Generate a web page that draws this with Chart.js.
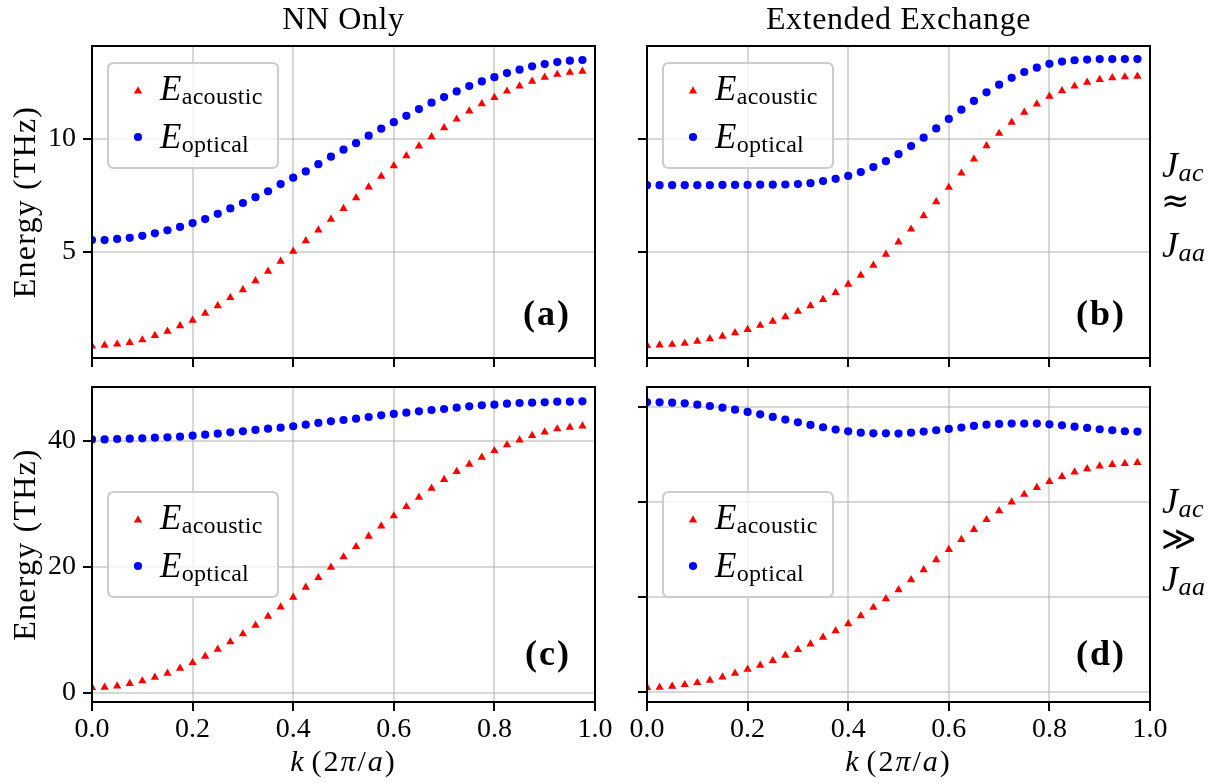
<!DOCTYPE html>
<html><head><meta charset="utf-8">
<script src="https://cdn.jsdelivr.net/npm/chart.js@4.4.1/dist/chart.umd.min.js"></script>
<style>
html,body{margin:0;padding:0;background:#fff;}
#wrap{position:relative;width:1217px;height:783px;overflow:hidden;background:#fff;}
canvas{position:absolute;}
</style></head><body>
<div id="wrap">
<canvas id="ca"></canvas><canvas id="cb"></canvas><canvas id="cc"></canvas><canvas id="cd"></canvas>
</div>
<script>
// ---------------- data ----------------
const kValues = [0, 0.025, 0.05, 0.075, 0.1, 0.125, 0.15, 0.175, 0.2, 0.225, 0.25, 0.275, 0.3, 0.325, 0.35, 0.375, 0.4, 0.425, 0.45, 0.475, 0.5, 0.525, 0.55, 0.575, 0.6, 0.625, 0.65, 0.675, 0.7, 0.725, 0.75, 0.775, 0.8, 0.825, 0.85, 0.875, 0.9, 0.925, 0.95, 0.975];
const xTicks = [0, 0.2, 0.4, 0.6, 0.8, 1.0];

const aAcoustic = [0.84, 0.87, 0.92, 0.99, 1.11, 1.30, 1.49, 1.73, 1.98, 2.29, 2.62, 2.98, 3.33, 3.73, 4.15, 4.59, 5.03, 5.50, 5.97, 6.45, 6.92, 7.40, 7.88, 8.35, 8.82, 9.26, 9.69, 10.10, 10.50, 10.88, 11.24, 11.56, 11.84, 12.12, 12.35, 12.56, 12.73, 12.86, 12.95, 13.00];
const aOptical = [5.53, 5.53, 5.58, 5.63, 5.72, 5.83, 5.96, 6.11, 6.28, 6.46, 6.69, 6.93, 7.17, 7.43, 7.69, 8.01, 8.29, 8.57, 8.89, 9.22, 9.53, 9.82, 10.15, 10.46, 10.75, 11.03, 11.33, 11.61, 11.86, 12.11, 12.35, 12.55, 12.74, 12.92, 13.07, 13.22, 13.32, 13.41, 13.47, 13.50];

const bAcoustic = [0.86, 0.88, 0.91, 0.96, 1.05, 1.16, 1.27, 1.42, 1.57, 1.75, 1.93, 2.13, 2.37, 2.62, 2.90, 3.21, 3.57, 3.97, 4.41, 4.90, 5.44, 6.01, 6.60, 7.22, 7.86, 8.49, 9.11, 9.70, 10.25, 10.74, 11.18, 11.55, 11.89, 12.14, 12.34, 12.51, 12.63, 12.71, 12.75, 12.78];
const bOptical = [7.96, 7.96, 7.96, 7.96, 7.96, 7.96, 7.97, 7.97, 7.97, 7.98, 7.98, 7.99, 8.01, 8.05, 8.14, 8.24, 8.37, 8.54, 8.76, 9.02, 9.33, 9.69, 10.06, 10.47, 10.89, 11.30, 11.69, 12.07, 12.41, 12.71, 12.97, 13.16, 13.33, 13.43, 13.49, 13.52, 13.54, 13.54, 13.54, 13.54];

const cAcoustic = [0.80, 0.85, 1.06, 1.43, 1.86, 2.44, 3.07, 3.87, 4.76, 5.77, 6.88, 8.05, 9.32, 10.69, 12.12, 13.60, 15.14, 16.72, 18.25, 19.90, 21.54, 23.17, 24.83, 26.46, 28.05, 29.52, 31.00, 32.44, 33.81, 35.08, 36.24, 37.37, 38.41, 39.32, 40.11, 40.80, 41.38, 41.86, 42.12, 42.33];
const cOptical = [40.20, 40.20, 40.27, 40.32, 40.37, 40.48, 40.53, 40.63, 40.79, 40.95, 41.11, 41.33, 41.49, 41.70, 41.90, 42.06, 42.29, 42.54, 42.81, 43.07, 43.28, 43.49, 43.76, 44.03, 44.24, 44.44, 44.66, 44.87, 45.03, 45.24, 45.46, 45.62, 45.71, 45.87, 45.98, 46.03, 46.09, 46.19, 46.19, 46.25];

const dAcoustic = [0.46, 0.48, 0.60, 0.77, 0.98, 1.23, 1.57, 1.96, 2.38, 2.80, 3.29, 3.85, 4.45, 5.04, 5.74, 6.44, 7.17, 8.01, 8.89, 9.80, 10.74, 11.79, 12.84, 13.89, 14.97, 16.02, 17.07, 18.12, 19.06, 19.97, 20.77, 21.50, 22.13, 22.66, 23.12, 23.47, 23.75, 23.92, 24.02, 24.13];
const dOptical = [30.46, 30.46, 30.42, 30.35, 30.21, 30.07, 29.90, 29.69, 29.45, 29.20, 28.92, 28.64, 28.36, 28.08, 27.84, 27.59, 27.41, 27.27, 27.20, 27.20, 27.17, 27.27, 27.38, 27.52, 27.66, 27.80, 27.98, 28.11, 28.19, 28.22, 28.22, 28.22, 28.15, 28.05, 27.90, 27.77, 27.63, 27.52, 27.42, 27.38];

const yTicksTop = [5, 10];
const yTicksC = [0, 20, 40];
const yTicksD = [0, 10, 20, 30];

const columnTitles = ['NN Only', 'Extended Exchange'];
const panelLabels = ['(a)', '(b)', '(c)', '(d)'];
const seriesNames = ['acoustic', 'optical'];
const yAxisTitle = 'Energy (THz)';
const rowLabels = [['ac', '\u2248', 'aa'], ['ac', '\u226B', 'aa']];

// ---------------- styling ----------------
const FAM = '"Liberation Serif", "Times New Roman", serif';
const SYM = '"DejaVu Sans", sans-serif';
const RED = '#ff0000', BLUE = '#0000ff';
const GRID = 'rgba(176,176,176,0.5)';

function pts(ys) { return kValues.map((k, i) => ({x: k, y: ys[i]})); }

// runs: [text, font, dy, spacingAfter]
function drawRuns(ctx, x, y, runs, align, ls) {
  ctx.letterSpacing = (ls || 0) + 'px';
  let total = 0;
  runs.forEach(r => { ctx.font = r[1]; r.w = ctx.measureText(r[0]).width + (r[3] || 0); total += r.w; });
  let cx = align === 'center' ? x - total / 2 : (align === 'right' ? x - total : x);
  ctx.textAlign = 'left';
  ctx.textBaseline = 'alphabetic';
  runs.forEach(r => { ctx.font = r[1]; ctx.fillText(r[0], cx, y + (r[2] || 0)); cx += r.w; });
  ctx.letterSpacing = '0px';
}

function roundRect(ctx, x, y, w, h, r) {
  ctx.beginPath();
  ctx.moveTo(x + r, y);
  ctx.lineTo(x + w - r, y); ctx.quadraticCurveTo(x + w, y, x + w, y + r);
  ctx.lineTo(x + w, y + h - r); ctx.quadraticCurveTo(x + w, y + h, x + w - r, y + h);
  ctx.lineTo(x + r, y + h); ctx.quadraticCurveTo(x, y + h, x, y + h - r);
  ctx.lineTo(x, y + r); ctx.quadraticCurveTo(x, y, x + r, y);
  ctx.closePath();
}

const decorPlugin = {
  id: 'decor',
  afterDatasetsDraw(chart, args, o) {
    const ctx = chart.ctx, ca = chart.chartArea;
    ctx.save();
    ctx.strokeStyle = '#000';
    ctx.lineWidth = 2;
    ctx.strokeRect(ca.left, ca.top, ca.right - ca.left, ca.bottom - ca.top);
    ctx.restore();
  },
  afterDraw(chart, args, o) {
    const ctx = chart.ctx, ca = chart.chartArea;
    ctx.save();
    ctx.fillStyle = '#000';
    const cx = (ca.left + ca.right) / 2;
    if (o.title) drawRuns(ctx, cx, 29, [[o.title, '32px ' + FAM]], 'center', 0.6);
    if (o.yTitle) {
      ctx.save();
      ctx.translate(35, (ca.top + ca.bottom) / 2);
      ctx.rotate(-Math.PI / 2);
      drawRuns(ctx, 0, 0, [[yAxisTitle, '32px ' + FAM]], 'center', 1.2);
      ctx.restore();
    }
    if (o.xTitle) {
      drawRuns(ctx, cx, o.xTitleY, [
        ['k', 'italic 30px ' + FAM, 0, 6], ['(', '30px ' + FAM], ['2', '30px ' + FAM], ['\u03C0', 'italic 30px ' + FAM],
        ['/', '30px ' + FAM], ['a', 'italic 30px ' + FAM], [')', '30px ' + FAM]], 'center', 2);
    }
    // panel label
    drawRuns(ctx, ca.right - 24, ca.bottom - o.labelUp, [[o.label, 'bold 36px ' + FAM]], 'right', 2);
    // legend
    const bx = ca.left + 16, by = ca.top + o.legTop, bw = 170, bh = 105;
    roundRect(ctx, bx, by, bw, bh, 6);
    ctx.fillStyle = 'rgba(255,255,255,0.8)';
    ctx.fill();
    ctx.strokeStyle = '#cccccc';
    ctx.lineWidth = 2;
    ctx.stroke();
    ctx.fillStyle = RED;
    Chart.helpers.drawPoint(ctx, {pointStyle: 'triangle', radius: 4.8, borderWidth: 0, rotation: 0}, bx + 30, by + 28);
    ctx.fillStyle = BLUE;
    Chart.helpers.drawPoint(ctx, {pointStyle: 'circle', radius: 4.1, borderWidth: 0, rotation: 0}, bx + 30, by + 74);
    ctx.fillStyle = '#000';
    drawRuns(ctx, bx + 52, by + 37, [['E', 'italic 35px ' + FAM], [seriesNames[0], '24px ' + FAM, 4]], 'left', 0.3);
    drawRuns(ctx, bx + 52, by + 85, [['E', 'italic 35px ' + FAM], [seriesNames[1], '24px ' + FAM, 4]], 'left', 0.3);
    // right-hand row labels
    if (o.rowLabel) {
      const r = o.rowLabel, x0 = o.rowX;
      drawRuns(ctx, x0, o.rowY[0], [['J', 'italic 36px ' + FAM], [r[0], 'italic 26px ' + FAM, 4]], 'left', 0.5);
      ctx.font = '34px ' + SYM;
      ctx.textAlign = 'left';
      ctx.textBaseline = 'middle';
      ctx.fillText(r[1], x0 - 1, o.rowY[1]);
      drawRuns(ctx, x0, o.rowY[2], [['J', 'italic 36px ' + FAM], [r[2], 'italic 26px ' + FAM, 4]], 'left', 0.5);
    }
    ctx.restore();
  }
};

function makePanel(id, pos, cfg) {
  const cv = document.getElementById(id);
  cv.width = pos.w; cv.height = pos.h;
  cv.style.left = pos.l + 'px'; cv.style.top = pos.t + 'px';
  cv.style.width = pos.w + 'px'; cv.style.height = pos.h + 'px';
  const yTicks = cfg.yTicks;
  return new Chart(cv, {
    type: 'scatter',
    data: {
      datasets: [
        {label: 'E_acoustic', data: pts(cfg.ac), pointStyle: 'triangle', pointRadius: 4.8, pointHoverRadius: 4.8,
         backgroundColor: RED, borderColor: RED, pointBorderWidth: 0, showLine: false, clip: 0},
        {label: 'E_optical', data: pts(cfg.op), pointStyle: 'circle', pointRadius: 4.1, pointHoverRadius: 4.1,
         backgroundColor: BLUE, borderColor: BLUE, pointBorderWidth: 0, showLine: false, clip: 0}
      ]
    },
    options: {
      responsive: false, animation: false, devicePixelRatio: 1,
      layout: {padding: {top: cfg.padTop, right: cfg.padRight, left: 0, bottom: 0}},
      plugins: {legend: {display: false}, tooltip: {enabled: false}, decor: cfg.decor},
      events: [],
      scales: {
        x: {
          type: 'linear', min: 0, max: 1,
          afterBuildTicks: s => { s.ticks = xTicks.map(v => ({value: v})); },
          afterFit: s => { s.height = cfg.xH; s.paddingLeft = 0; s.paddingRight = 0; s.paddingTop = 0; s.paddingBottom = 0; },
          grid: {color: GRID, lineWidth: 2, drawTicks: true, tickLength: 9, tickColor: '#000', tickWidth: 2},
          border: {display: false},
          ticks: {display: cfg.xLabels, autoSkip: false, maxRotation: 0, font: {family: FAM, size: 28}, color: '#000', padding: 2,
                  callback: v => Number(v).toFixed(1)}
        },
        y: {
          type: 'linear', min: cfg.yMin, max: cfg.yMax,
          afterBuildTicks: s => { s.ticks = yTicks.map(v => ({value: v})); },
          afterFit: s => { s.width = cfg.yW; s.paddingLeft = 0; s.paddingRight = 0; s.paddingTop = 0; s.paddingBottom = 0; },
          grid: {color: GRID, lineWidth: 2, drawTicks: true, tickLength: 9, tickColor: '#000', tickWidth: 2},
          border: {display: false},
          ticks: {display: cfg.yLabels, autoSkip: false, font: {family: FAM, size: 28}, color: '#000', padding: 7,
                  callback: v => String(v)}
        }
      }
    },
    plugins: [decorPlugin]
  });
}

makePanel('ca', {l: 0, t: 0, w: 620, h: 372}, {
  ac: aAcoustic, op: aOptical, yTicks: yTicksTop, yMin: 0.31, yMax: 14.12,
  padTop: 46, padRight: 25, xH: 14, yW: 92, xLabels: false, yLabels: true,
  decor: {title: columnTitles[0], yTitle: true, label: panelLabels[0], labelUp: 33, legTop: 17}
});
makePanel('cb', {l: 620, t: 0, w: 597, h: 372}, {
  ac: bAcoustic, op: bOptical, yTicks: yTicksTop, yMin: 0.31, yMax: 14.12,
  padTop: 46, padRight: 67, xH: 14, yW: 27, xLabels: false, yLabels: false,
  decor: {title: columnTitles[1], label: panelLabels[1], labelUp: 33, legTop: 17,
          rowLabel: rowLabels[0], rowX: 542, rowY: [177, 203, 257]}
});
makePanel('cc', {l: 0, t: 372, w: 620, h: 411}, {
  ac: cAcoustic, op: cOptical, yTicks: yTicksC, yMin: -1.48, yMax: 48.52,
  padTop: 15, padRight: 25, xH: 81, yW: 92, xLabels: true, yLabels: true,
  decor: {yTitle: true, label: panelLabels[2], labelUp: 37, legTop: 105, xTitle: true, xTitleY: 399}
});
makePanel('cd', {l: 620, t: 372, w: 597, h: 411}, {
  ac: dAcoustic, op: dOptical, yTicks: yTicksD, yMin: -1.05, yMax: 32.07,
  padTop: 15, padRight: 67, xH: 81, yW: 27, xLabels: true, yLabels: false,
  decor: {label: panelLabels[3], labelUp: 37, legTop: 105, xTitle: true, xTitleY: 399,
          rowLabel: rowLabels[1], rowX: 542, rowY: [141, 169, 219]}
});
</script>
</body></html>
